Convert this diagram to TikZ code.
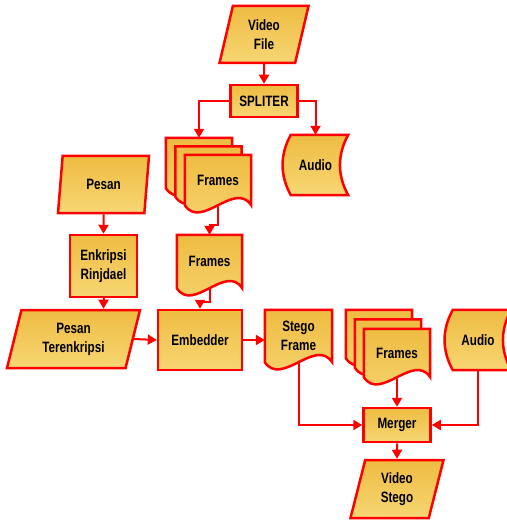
\documentclass[tikz,border=0pt]{standalone}
\usepackage{fontspec}
\setmainfont{Liberation Sans}[FakeStretch=0.78]
\usepackage{xcolor}
\usepackage{tikz}
\usetikzlibrary{arrows.meta, shapes.geometric}
\usetikzlibrary{calc,backgrounds}
\definecolor{golddark}{RGB}{238,188,66}
\definecolor{goldlight}{RGB}{247,214,115}
\definecolor{flowred}{RGB}{255,0,0}
\newcommand{\docpath}[1]{(#1.north west) -- (#1.north east) -- (#1.south east)
	.. controls ($(#1.south east)!0.5!(#1.south)+(0,-25)$) and ($(#1.south west)!0.5!(#1.south)+(0,25)$) .. (#1.south west) -- cycle}
\newcommand{\storepath}[1]{($(#1.north west)+(8,0)$) -- (#1.north east)
	.. controls ($(#1.north east)+(-11,20)$) and ($(#1.south east)+(-11,-20)$) .. (#1.south east)
	-- ($(#1.south west)+(8,0)$)
	.. controls ($(#1.south west)+(-3,-20)$) and ($(#1.north west)+(-3,20)$) .. ($(#1.north west)+(8,0)$) -- cycle}

\begin{document}
\begin{tikzpicture}[x=1pt, y=-1pt,
	every node/.style={font=\bfseries\fontsize{15}{19}\selectfont, align=center, inner sep=0pt},
	fillgold/.style={top color=golddark, bottom color=goldlight},
	proc/.style={draw=flowred, line width=2.5pt, fillgold},
	iobox/.style={proc, trapezium, trapezium left angle=66, trapezium right angle=114, trapezium stretches body, minimum height=57pt},
	shapeline/.style={draw=flowred, line width=2.5pt, fillgold},
	flow/.style={draw=flowred, line width=2pt, -{Triangle[length=9pt,width=10pt]}}]
	
	\useasboundingbox (0,0) rectangle (506,521);
	
	\node[iobox, minimum width=89pt] (vf) at (264,34.5) {Video\\File};
	\node[proc, minimum width=67pt, minimum height=32pt] (sp) at (264,101) {SPLITER};
	
	% frames stack after the splitter
	\node[minimum width=66pt, minimum height=50pt] (ffa) at (199,163) {};
	\node[minimum width=66pt, minimum height=50pt] (ffb) at (208.5,171.5) {};
	\node[minimum width=66pt, minimum height=50pt] (ff) at (218,180) {Frames};
	\node[minimum width=65pt, minimum height=60pt] (au) at (315.5,165) {Audio};
	
	\node[iobox, minimum width=91pt] (pe) at (103.5,184.5) {Pesan};
	\node[proc, minimum width=67pt, minimum height=62pt] (en) at (103.5,266) {Enkripsi\\Rinjdael};
	\node[minimum width=65pt, minimum height=53pt] (fm) at (209.5,261.5) {Frames};
	
	\node[iobox, minimum width=133pt, minimum height=58pt] (pt) at (73.5,339) {Pesan\\Terenkripsi};
	\node[proc, minimum width=84pt, minimum height=60pt] (em) at (200,340) {Embedder};
	\node[minimum width=67pt, minimum height=52pt] (sf) at (298.5,336) {Stego\\Frame};
	
	% frames stack before the merger
	\node[minimum width=66pt, minimum height=48pt] (fsa) at (379,334) {};
	\node[minimum width=66pt, minimum height=48pt] (fsb) at (388,343.5) {};
	\node[minimum width=66pt, minimum height=48pt] (fs) at (397,353) {Frames};
	\node[minimum width=66pt, minimum height=60pt] (aub) at (478,340) {Audio};
	
	\node[proc, minimum width=67pt, minimum height=34pt] (mg) at (397,425) {Merger};
	\node[iobox, minimum width=93pt, minimum height=58pt] (vs) at (397,489) {Video\\Stego};
	
	\begin{scope}[on background layer]
		\foreach \d in {ffa,ffb,ff,fm,sf,fsa,fsb,fs} \filldraw[shapeline] \docpath{\d};
		\foreach \s in {au,aub} \filldraw[shapeline] \storepath{\s};
	\end{scope}
	
	\draw[flow] (vf.south) -- (sp.north);
	\draw[flow] (sp.west) -| (ffa.north);
	\draw[flow] (sp.east) -| (au.north);
	\draw[flow] (ff.south) -- ++(0,20) -| (fm.north);
	\draw[flow] (pe.south) -- (en.north);
	\draw[flow] (en.south) -- (en.south |- pt.north);
	\draw[flow] (fm.south) -- ++(0,14) -| (em.north);
	\draw[flow] (pt.east) -- (em.west);
	\draw[flow] (em.east) -- (em.east -| sf.west);
	\draw[flow] (sf.south) |- (mg.west);
	\draw[flow] (fs.south) -- (mg.north);
	\draw[flow] (aub.south) |- (mg.east);
	\draw[flow] (mg.south) -- (vs.north);
\end{tikzpicture}
\end{document}
